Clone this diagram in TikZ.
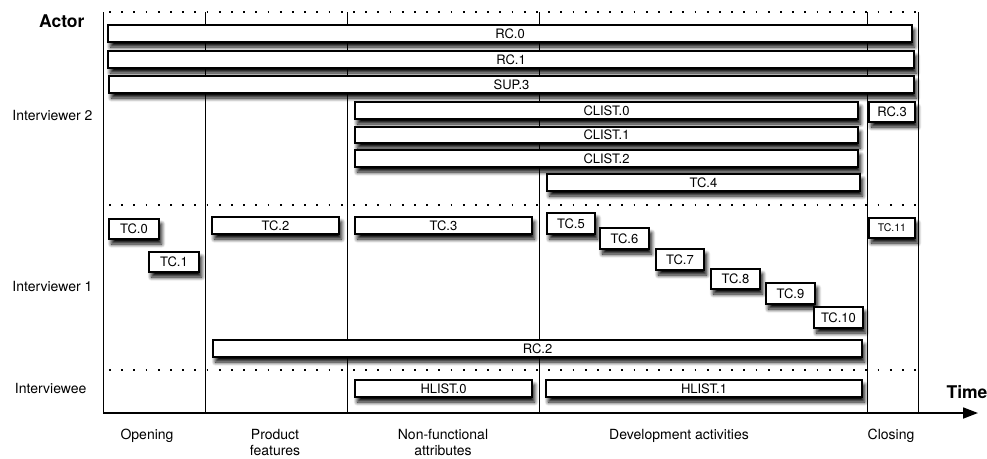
\documentclass[tikz,border=0pt]{standalone}
\usepackage{fontspec}
\setmainfont{TeX Gyre Heros}
\usetikzlibrary{arrows.meta,shadows.blur}

\tikzset{
  bar/.style={draw=black, fill=white, line width=1.2pt, inner sep=0pt,
    font=\fontsize{13}{14}\selectfont,
    blur shadow={shadow xshift=2.5pt, shadow yshift=-5pt,
      shadow blur radius=4pt, shadow blur steps=8, shadow opacity=100}},
  smallbar/.style={bar, font=\fontsize{10.5}{12}\selectfont},
  phaseline/.style={line width=1pt, black},
  laneline/.style={line width=1.7pt, dash pattern=on 1.7pt off 10.5pt},
  actorlabel/.style={anchor=east, font=\fontsize{14}{16}\selectfont},
  headlabel/.style={font=\bfseries\fontsize{17.5}{20}\selectfont},
  phaselabel/.style={anchor=north, align=center, font=\fontsize{14}{16}\selectfont},
}

% activity bar: name, left, top, right, bottom, label, style
\newcommand\actbar[7]{%
  \node[#7, minimum width={(#4-#2)*1pt}, minimum height={(#5-#3)*1pt}]
    (#1) at ({(#2+#4)/2},{(#3+#5)/2}) {#6};}

\begin{document}
\begin{tikzpicture}[x=1pt,y=-1pt]
\useasboundingbox (0,0) rectangle (987,458);

% frame: phase separators and swim-lane dividers
\coordinate (tl) at (103,12);
\coordinate (bl) at (103,413);
\coordinate (tr) at (918,12);
\coordinate (br) at (918,413);
\coordinate (tip) at (978,413);
\foreach \x in {205,347,539,867} \draw[phaseline] (\x,12) -- (\x,413);
\draw[phaseline] (tl) -- (bl);
\draw[phaseline] (tr) -- (br);
\foreach \y in {12,205,370} \draw[laneline] (109,\y) -- (918,\y);

% time axis
\draw[line width=1.8pt, -{Triangle[length=15pt,width=11pt]}] (bl) -- (tip);

% lane and axis labels
\node[headlabel, anchor=east] (actor) at (88,21) {Actor};
\node[actorlabel] (iv2) at (96,115) {Interviewer 2};
\node[actorlabel] (iv1) at (96,286) {Interviewer 1};
\node[actorlabel] (ive) at (90,388) {Interviewee};
\node[headlabel] (time) at (967,392) {Time};

% phase labels
\node[phaselabel] (ph1) at (147,426) {Opening};
\node[phaselabel] (ph2) at (275,426) {Product\\features};
\node[phaselabel] (ph3) at (443,426) {Non-functional\\attributes};
\node[phaselabel] (ph4) at (679,426) {Development activities};
\node[phaselabel] (ph5) at (891,426) {Closing};

% shared bars
\actbar{rc0}{108}{25}{912}{42}{RC.0}{bar}
\actbar{rc1}{108}{51}{914}{68}{RC.1}{bar}
\actbar{sup3}{109}{76}{914}{93}{SUP.3}{bar}

% interviewer 2
\actbar{cl0}{355}{102}{858}{119}{CLIST.0}{bar}
\actbar{cl1}{355}{127}{858}{143}{CLIST.1}{bar}
\actbar{cl2}{355}{150}{858}{167}{CLIST.2}{bar}
\actbar{tc4}{547}{174}{860}{191}{TC.4}{bar}
\actbar{rc3}{869}{102}{915}{122}{RC.3}{bar}

% interviewer 1
\actbar{tc0}{109}{219}{159}{239}{TC.0}{bar}
\actbar{tc1}{149}{252}{199}{272}{TC.1}{bar}
\actbar{tc2}{212}{217}{339}{234}{TC.2}{bar}
\actbar{tc3}{355}{217}{532}{234}{TC.3}{bar}
\actbar{tc5}{547}{213}{595}{234}{TC.5}{bar}
\actbar{tc6}{600}{228}{649}{249}{TC.6}{bar}
\actbar{tc7}{656}{249}{704}{270}{TC.7}{bar}
\actbar{tc8}{711}{269}{760}{289}{TC.8}{bar}
\actbar{tc9}{766}{283}{815}{304}{TC.9}{bar}
\actbar{tc10}{814}{307}{863}{328}{TC.10}{bar}
\actbar{tc11}{869}{218}{915}{238}{TC.11}{smallbar}
\actbar{rc2}{213}{340}{862}{357}{RC.2}{bar}

% interviewee
\actbar{hl0}{355}{380}{532}{397}{HLIST.0}{bar}
\actbar{hl1}{546}{380}{862}{397}{HLIST.1}{bar}
\end{tikzpicture}
\end{document}
